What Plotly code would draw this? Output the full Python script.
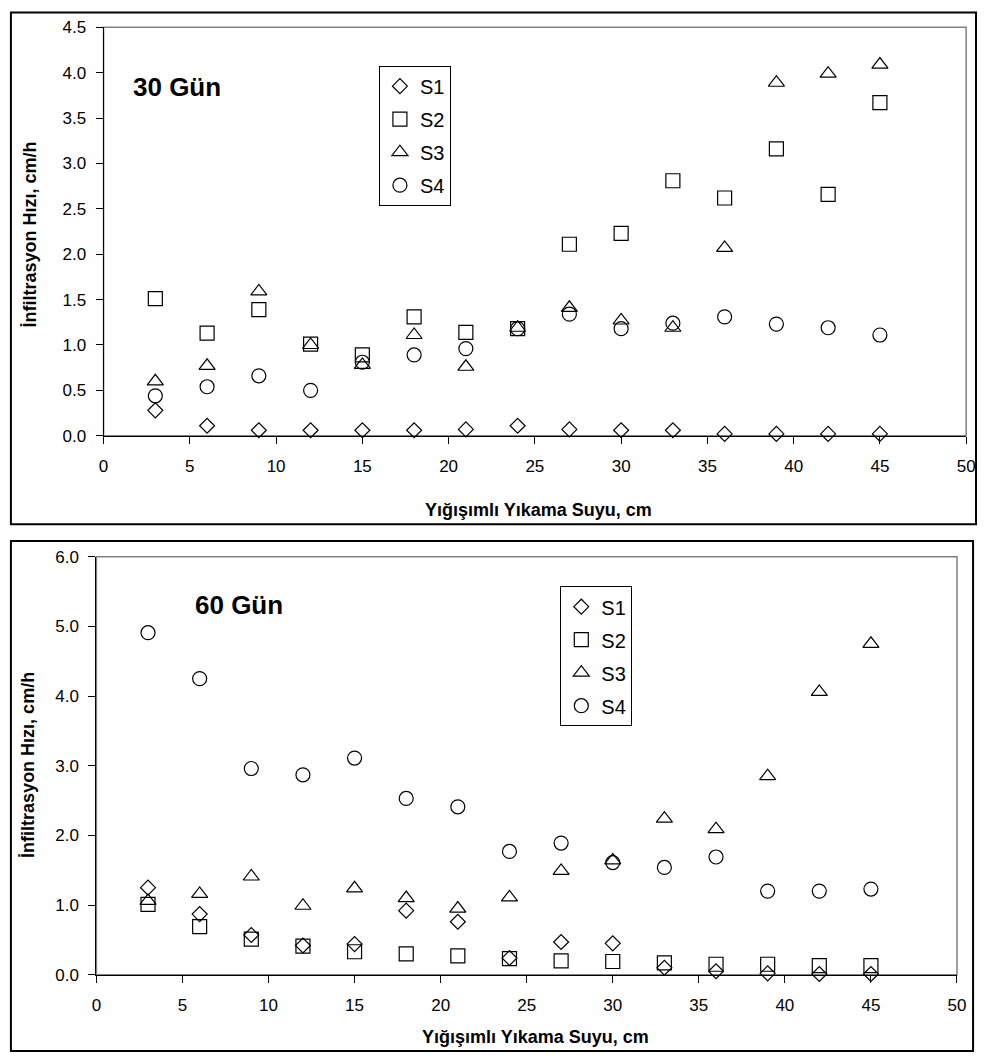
import plotly.graph_objects as go

W, H = 986, 1063

# Cumulative leaching water (cm)
yikama = [3, 6, 9, 12, 15, 18, 21, 24, 27, 30, 33, 36, 39, 42, 45]

# Infiltration rate (cm/h) after 30 days
s1_30 = [0.28, 0.11, 0.06, 0.06, 0.06, 0.06, 0.07, 0.11, 0.07, 0.06, 0.06, 0.02, 0.02, 0.02, 0.02]
s2_30 = [1.51, 1.13, 1.39, 1.01, 0.89, 1.31, 1.14, 1.18, 2.11, 2.23, 2.81, 2.62, 3.16, 2.66, 3.67]
s3_30 = [0.60, 0.77, 1.59, 1.00, 0.78, 1.11, 0.76, 1.19, 1.41, 1.27, 1.19, 2.07, 3.89, 3.99, 4.09]
s4_30 = [0.44, 0.54, 0.66, 0.50, 0.81, 0.89, 0.96, 1.18, 1.34, 1.18, 1.24, 1.31, 1.23, 1.19, 1.11]

# Infiltration rate (cm/h) after 60 days
s1_60 = [1.25, 0.87, 0.57, 0.42, 0.44, 0.92, 0.76, 0.24, 0.47, 0.45, 0.10, 0.05, 0.02, 0.01, 0.01]
s2_60 = [1.01, 0.69, 0.51, 0.41, 0.33, 0.30, 0.27, 0.23, 0.20, 0.19, 0.17, 0.15, 0.15, 0.13, 0.13]
s3_60 = [1.06, 1.16, 1.41, 0.99, 1.24, 1.10, 0.95, 1.11, 1.49, 1.64, 2.24, 2.09, 2.85, 4.06, 4.75]
s4_60 = [4.91, 4.25, 2.96, 2.87, 3.11, 2.53, 2.41, 1.77, 1.89, 1.61, 1.54, 1.69, 1.20, 1.20, 1.23]

series_names = ["S1", "S2", "S3", "S4"]
panels = [
    ("x", "y", "legend", [s1_30, s2_30, s3_30, s4_30]),
    ("x2", "y2", "legend2", [s1_60, s2_60, s3_60, s4_60]),
]

symbols = {"S1": ("diamond-open", 11.5), "S2": ("square-open", 14),
           "S3": ("triangle-up-open", 14), "S4": ("circle-open", 14)}

FONT = "Liberation Sans, Arial, sans-serif"

fig = go.Figure()
for xa, ya, leg, values in panels:
    for name, vals in zip(series_names, values):
        sym, size = symbols[name]
        fig.add_trace(go.Scatter(
            x=yikama, y=vals, name=name, mode="markers",
            xaxis=xa, yaxis=ya, legend=leg, legendgroup=leg + name,
            cliponaxis=False,
            marker=dict(symbol=sym, size=size, color="black",
                        line=dict(color="black", width=1.2)),
        ))


def px(p):
    return p / W


def py(p):
    return 1 - p / H


axis_common = dict(
    showline=True, linecolor="black", linewidth=1,
    ticks="outside", ticklen=7, tickcolor="black", tickwidth=1,
    showgrid=False, zeroline=False, fixedrange=True,
    tickfont=dict(family=FONT, size=17, color="black"),
)

fig.update_layout(
    width=W, height=H,
    margin=dict(l=0, r=0, t=0, b=0),
    paper_bgcolor="white", plot_bgcolor="white",
    font=dict(family=FONT, color="black"),
    xaxis=dict(domain=[px(100), px(975)], anchor="y", range=[0, 50],
               tick0=0, dtick=5, ticklabelstandoff=8, **axis_common),
    yaxis=dict(domain=[py(434.5), py(18.7)], anchor="x", range=[0, 4.5],
               tick0=0, dtick=0.5, tickformat=".1f", ticklabelstandoff=6,
               **axis_common),
    xaxis2=dict(domain=[px(92.7), px(965.7)], anchor="y2", range=[0, 50],
                tick0=0, dtick=5, ticklabelstandoff=8, **axis_common),
    yaxis2=dict(domain=[py(983.3), py(557.7)], anchor="x2", range=[0, 6],
                tick0=0, dtick=1, tickformat=".1f", ticklabelstandoff=6,
                **axis_common),
    legend=dict(x=px(379.3), y=py(57.7), xanchor="left", yanchor="top",
                bgcolor="white", bordercolor="black", borderwidth=1,
                font=dict(family=FONT, size=20, color="black"),
                traceorder="grouped", tracegroupgap=4),
    legend2=dict(x=px(563.3), y=py(587.7), xanchor="left", yanchor="top",
                 bgcolor="white", bordercolor="black", borderwidth=1,
                 font=dict(family=FONT, size=20, color="black"),
                 traceorder="grouped", tracegroupgap=4),
    showlegend=True,
)

# Grey plot-area frame on top/right, outer black chart frames
shapes = []
for xr, yr in (("x domain", "y domain"), ("x2 domain", "y2 domain")):
    shapes.append(dict(type="rect", xref=xr, yref=yr, x0=0, x1=1, y0=0, y1=1,
                       line=dict(color="#808080", width=1.5), layer="below"))
shapes.append(dict(type="rect", xref="paper", yref="paper",
                   x0=px(6), x1=px(985), y0=py(524.5), y1=py(3.5),
                   line=dict(color="black", width=2)))
shapes.append(dict(type="rect", xref="paper", yref="paper",
                   x0=px(6), x1=px(982), y0=py(1061), y1=py(541.7),
                   line=dict(color="black", width=2)))
fig.update_layout(shapes=shapes)


def label(text, cx, cy, size, angle=0):
    return dict(text=text, x=px(cx), y=py(cy), xref="paper", yref="paper",
                xanchor="center", yanchor="middle", textangle=angle,
                showarrow=False,
                font=dict(family=FONT, size=size, color="black", weight="bold"))


annotations = [
    label("30 Gün", 174.7, 79.5, 26),
    label("60 Gün", 237.7, 606.5, 26),
    label("İnfiltrasyon Hızı, cm/h", 25, 230, 18, -90),
    label("İnfiltrasyon Hızı, cm/h", 24, 770, 18, -90),
    label("Yığışımlı Yıkama Suyu, cm", 540.8, 510, 18),
    label("Yığışımlı Yıkama Suyu, cm", 538.3, 1046.7, 18),
]
fig.update_layout(annotations=annotations)

fig.write_html("out.html")
